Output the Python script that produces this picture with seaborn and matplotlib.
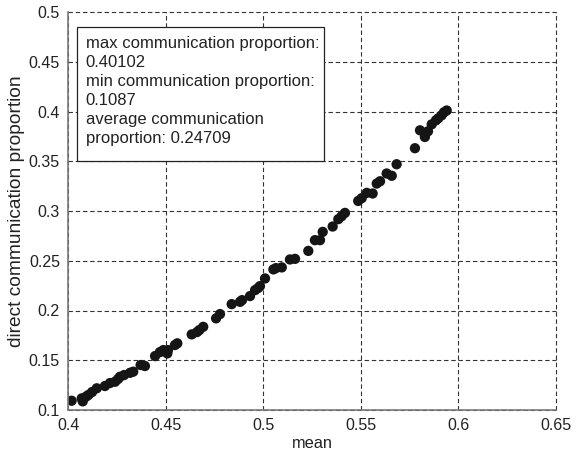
import matplotlib
matplotlib.use("Agg")
import matplotlib.pyplot as plt
import matplotlib.patches as mpatches
import seaborn as sns
import pandas as pd

x_mean = [0.4017, 0.4069, 0.4074, 0.4091, 0.4103, 0.4122, 0.4146, 0.4188, 0.4214, 0.4240,
          0.4255, 0.4265, 0.4286, 0.4317, 0.4333, 0.4371, 0.4393, 0.4445, 0.4470, 0.4487,
          0.4508, 0.4511, 0.4547, 0.4559, 0.4633, 0.4660, 0.4672, 0.4692, 0.4758, 0.4778,
          0.4838, 0.4881, 0.4891, 0.4932, 0.4958, 0.4973, 0.4983, 0.5009, 0.5052, 0.5065,
          0.5095, 0.5137, 0.5163, 0.5231, 0.5265, 0.5291, 0.5305, 0.5356, 0.5385, 0.5402,
          0.5419, 0.5487, 0.5505, 0.5531, 0.5561, 0.5582, 0.5599, 0.5633, 0.5659, 0.5684,
          0.5778, 0.5804, 0.5829, 0.5845, 0.5864, 0.5886, 0.5898, 0.5915, 0.5927, 0.5941]
y_prop = [0.1093, 0.1117, 0.1087, 0.1134, 0.1151, 0.1181, 0.1218, 0.1241, 0.1271, 0.1284,
          0.1311, 0.1334, 0.1351, 0.1374, 0.1385, 0.1452, 0.1442, 0.1542, 0.1582, 0.1602,
          0.1569, 0.1602, 0.1653, 0.1670, 0.1760, 0.1783, 0.1803, 0.1836, 0.1921, 0.1964,
          0.2064, 0.2087, 0.2104, 0.2145, 0.2205, 0.2225, 0.2245, 0.2322, 0.2413, 0.2426,
          0.2433, 0.2513, 0.2519, 0.2599, 0.2707, 0.2707, 0.2790, 0.2844, 0.2918, 0.2948,
          0.2981, 0.3101, 0.3129, 0.3182, 0.3176, 0.3276, 0.3299, 0.3377, 0.3354, 0.3470,
          0.3631, 0.3811, 0.3744, 0.3801, 0.3871, 0.3912, 0.3932, 0.3962, 0.3992, 0.4010]

x_ticks = [0.4, 0.45, 0.5, 0.55, 0.6, 0.65]
x_tick_labels = ["0.4", "0.45", "0.5", "0.55", "0.6", "0.65"]
y_ticks = [0.1, 0.15, 0.2, 0.25, 0.3, 0.35, 0.4, 0.45, 0.5]
y_tick_labels = ["0.1", "0.15", "0.2", "0.25", "0.3", "0.35", "0.4", "0.45", "0.5"]

info_text = ("max communication proportion:\n0.40102\n"
             "min communication proportion:\n0.1087\n"
             "average communication\nproportion: 0.24709")

sns.set_style("white")
plt.rcParams['font.family'] = ['Liberation Sans', 'DejaVu Sans']

df = pd.DataFrame({"mean": x_mean, "prop": y_prop})

fig = plt.figure(figsize=(5.8, 4.62), dpi=100)
ax = fig.add_axes([68.3 / 580, 1 - 410 / 462, (555.7 - 68.3) / 580, (410 - 12) / 462])

sns.scatterplot(data=df, x="mean", y="prop", ax=ax, color="#151515", s=55,
                edgecolor="none", linewidth=0, zorder=3)

ax.set_xlim(0.4, 0.65)
ax.set_ylim(0.1, 0.5)
ax.set_xticks(x_ticks)
ax.set_xticklabels(x_tick_labels)
ax.set_yticks(y_ticks)
ax.set_yticklabels(y_tick_labels)
ax.tick_params(direction="in", length=3, width=0.8, colors="#333333",
               labelcolor="#222222", labelsize=11.5, pad=6)

ax.grid(True, linestyle=(0, (4, 2.5)), color="#333333", linewidth=0.8)
for gl in ax.get_xgridlines() + ax.get_ygridlines():
    gl.set_clip_on(False)
ax.set_axisbelow(True)

for side in ["top", "right"]:
    ax.spines[side].set_visible(False)
for side in ["left", "bottom"]:
    ax.spines[side].set_color("#7a7a7a")
    ax.spines[side].set_linewidth(1.2)
    ax.spines[side].set_zorder(4)

ax.set_xlabel("mean", fontsize=11.8, color="#222222", labelpad=2)
ax.set_ylabel("direct communication proportion", fontsize=13.8, color="#222222", labelpad=3)

box = mpatches.Rectangle((0.0172, 0.6264), 0.5074, 0.3352, transform=ax.transAxes,
                         facecolor="white", edgecolor="#222222", linewidth=0.9, zorder=5)
ax.add_patch(box)
ax.text(0.0357, 0.940, info_text, transform=ax.transAxes, fontsize=12,
        va="top", ha="left", color="#222222", linespacing=1.34, zorder=6)

fig.savefig("out.png", dpi=100)
